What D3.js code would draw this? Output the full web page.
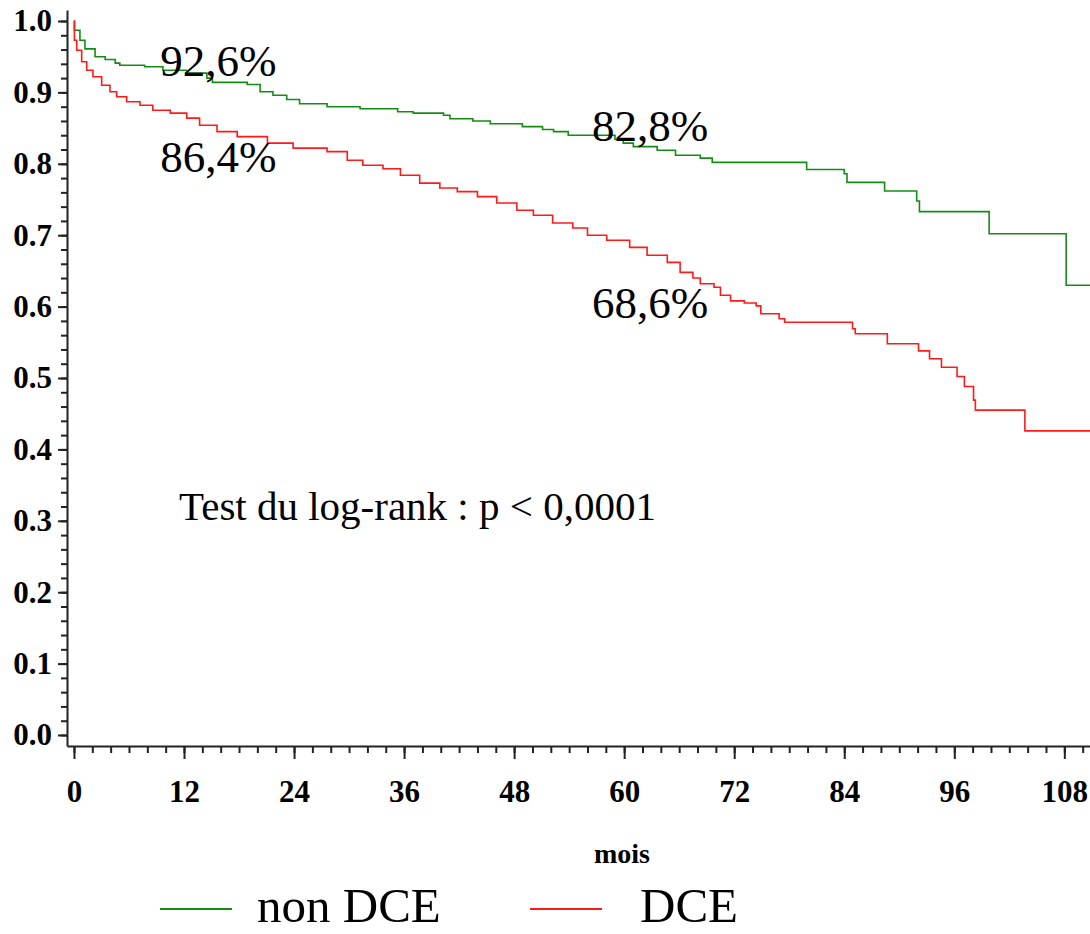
<!DOCTYPE html>
<html>
<head>
<meta charset="utf-8">
<script src="https://cdn.jsdelivr.net/npm/d3@7"></script>
<style>
  body { margin: 0; background: #fff; }
  svg { display: block; }
  .axis path, .axis line { stroke: #222; stroke-width: 2; }
  .axis text { font-family: "Liberation Serif", serif; font-weight: bold; font-size: 31px; fill: #000; }
  .big { font-family: "Liberation Serif", serif; fill: #000; }
</style>
</head>
<body>
<svg width="1090" height="934"></svg>
<script>
// Kaplan-Meier steps (months, survival after the drop)
const nonDceMonths = [0, 0.05, 0.65, 1.2, 2.3, 3.4, 4.5, 5.0, 7.7, 9.7, 12.3, 14.5, 15.1, 18.9, 20.3, 21.7,
  23.2, 24.6, 27.6, 31.2, 35.3, 37.0, 40.3, 41.0, 43.5, 45.4, 48.9, 51.1, 52.3, 53.9, 59.0, 59.9, 61.0,
  63.6, 65.6, 68.3, 69.6, 79.9, 84.0, 84.3, 88.4, 91.9, 92.2, 99.8, 108.2, 110.8];
const nonDceSurv = [1.0, 0.987, 0.973, 0.961, 0.950, 0.946, 0.941, 0.938, 0.936, 0.931, 0.927, 0.920, 0.914,
  0.911, 0.901, 0.896, 0.890, 0.884, 0.880, 0.877, 0.873, 0.871, 0.868, 0.863, 0.860, 0.856, 0.852, 0.848,
  0.845, 0.840, 0.834, 0.829, 0.824, 0.819, 0.812, 0.808, 0.802, 0.792, 0.786, 0.774, 0.762, 0.748, 0.733,
  0.702, 0.630, 0.630];

const dceMonths = [0, 0.05, 0.3, 0.84, 1.39, 2.07, 3.02, 3.93, 4.66, 5.75, 7.2, 8.6, 10.5, 12.3, 13.7, 15.6,
  17.8, 21.1, 23.9, 27.6, 29.8, 31.5, 33.7, 35.6, 37.7, 39.9, 41.8, 44.0, 46.1, 48.3, 50.1, 52.2, 54.4, 56.0,
  58.1, 60.6, 62.5, 64.7, 66.1, 67.5, 68.3, 69.8, 70.5, 71.6, 73.1, 74.4, 74.9, 76.9, 77.5, 84.9, 85.2, 88.7,
  92.1, 93.3, 94.6, 96.3, 97.1, 98.1, 98.3, 103.7, 110.8];
const dceSurv = [1.0, 0.973, 0.959, 0.943, 0.931, 0.922, 0.910, 0.901, 0.894, 0.887, 0.882, 0.875, 0.871,
  0.864, 0.854, 0.845, 0.838, 0.829, 0.822, 0.817, 0.805, 0.798, 0.793, 0.784, 0.773, 0.766, 0.761, 0.754,
  0.745, 0.735, 0.728, 0.717, 0.710, 0.700, 0.693, 0.683, 0.672, 0.662, 0.648, 0.640, 0.632, 0.627, 0.616,
  0.608, 0.605, 0.601, 0.590, 0.583, 0.578, 0.569, 0.562, 0.548, 0.538, 0.527, 0.515, 0.502, 0.488, 0.469,
  0.455, 0.426, 0.426];

const xTicks = [0, 12, 24, 36, 48, 60, 72, 84, 96, 108];
const yTicks = [0, 0.1, 0.2, 0.3, 0.4, 0.5, 0.6, 0.7, 0.8, 0.9, 1.0];

const seriesNames = ["non DCE", "DCE"];
const seriesColors = ["#148c14", "#ff1a1a"];

const pctLabels = [
  { text: "92,6%", m: 9.4, s: 0.923 },
  { text: "86,4%", m: 9.4, s: 0.788 },
  { text: "82,8%", m: 56.5, s: 0.832 },
  { text: "68,6%", m: 56.5, s: 0.584 }
];

function createAxis(svg, area) {
    let scaleX = d3.scaleLinear()
        .domain([-0.76, 110.8])
        .range([area.left, area.right]);
    let scaleY = d3.scaleLinear()
        .domain([-0.0154, 1.0154])
        .range([area.bottom, area.top]);

    // minor ticks first
    svg.append("g")
        .attr("class", "axis")
        .attr("transform", `translate(0, ${area.bottom})`)
        .call(d3.axisBottom(scaleX).tickValues(d3.range(0, 111, 2)).tickSize(7).tickFormat(""))
        .select(".domain").remove();
    svg.append("g")
        .attr("class", "axis")
        .attr("transform", `translate(${area.left}, 0)`)
        .call(d3.axisLeft(scaleY).tickValues(d3.range(0, 51).map(i => i / 50)).tickSize(6).tickFormat(""))
        .select(".domain").remove();

    // major ticks with labels
    let gx = svg.append("g")
        .attr("class", "axis")
        .attr("transform", `translate(0, ${area.bottom})`)
        .call(d3.axisBottom(scaleX).tickValues(xTicks).tickSize(13).tickSizeOuter(0));
    gx.selectAll("text").attr("y", 34);

    svg.append("g")
        .attr("class", "axis")
        .attr("transform", `translate(${area.left}, 0)`)
        .call(d3.axisLeft(scaleY).tickValues(yTicks).tickSize(9).tickSizeOuter(0)
            .tickPadding(6).tickFormat(d3.format(".1f")));

    return [scaleX, scaleY];
}

function drawCurve(svg, months, surv, scaleX, scaleY, color) {
    let pts = months.map((m, i) => [m, surv[i]]);
    let line = d3.line()
        .x(d => scaleX(d[0]))
        .y(d => scaleY(d[1]))
        .curve(d3.curveStepAfter);
    svg.append("path")
        .attr("d", line(pts))
        .attr("fill", "none")
        .attr("stroke", color)
        .attr("stroke-width", 1.6);
}

function drawGraph() {
    let svg = d3.select("svg");
    const area = { left: 67, right: 1090, top: 10, bottom: 746 };

    const [scx, scy] = createAxis(svg, area);

    drawCurve(svg, nonDceMonths, nonDceSurv, scx, scy, seriesColors[0]);
    drawCurve(svg, dceMonths, dceSurv, scx, scy, seriesColors[1]);

    svg.selectAll(".pct")
        .data(pctLabels)
        .enter()
        .append("text")
        .attr("class", "big pct")
        .attr("x", d => scx(d.m))
        .attr("y", d => scy(d.s))
        .style("font-size", "45px")
        .text(d => d.text);

    svg.append("text")
        .attr("class", "big")
        .attr("x", 179)
        .attr("y", 520)
        .style("font-size", "41px")
        .text("Test du log-rank : p < 0,0001");

    svg.append("text")
        .attr("class", "big")
        .attr("x", 622)
        .attr("y", 863)
        .attr("text-anchor", "middle")
        .style("font-size", "28px")
        .style("font-weight", "bold")
        .text("mois");

    // legend
    const legX = [160, 530];
    const legTextX = [257, 640];
    seriesNames.forEach((name, i) => {
        svg.append("line")
            .attr("x1", legX[i]).attr("x2", legX[i] + 72)
            .attr("y1", 909).attr("y2", 909)
            .attr("stroke", seriesColors[i])
            .attr("stroke-width", 2);
        svg.append("text")
            .attr("class", "big")
            .attr("x", legTextX[i])
            .attr("y", 922)
            .style("font-size", "49px")
            .text(name);
    });
}

drawGraph();
</script>
</body>
</html>
